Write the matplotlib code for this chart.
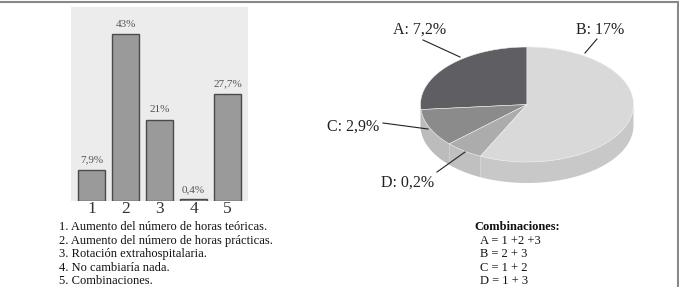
import numpy as np
import matplotlib.pyplot as plt
from matplotlib.patches import Polygon
from matplotlib.lines import Line2D

plt.rcParams['font.family'] = ['Liberation Serif', 'DejaVu Serif']

# bar chart data
bar_cats = ['1', '2', '3', '4', '5']
bar_vals = [7.9, 43, 21, 0.4, 27.7]
bar_labels = ['7,9%', '43%', '21%', '0,4%', '27,7%']
legend_lines = ['1. Aumento del número de horas teóricas.',
                '2. Aumento del número de horas prácticas.',
                '3. Rotación extrahospitalaria.',
                '4. No cambiaría nada.',
                '5. Combinaciones.']

# pie data (wedge sizes as drawn, labels as printed)
pie_names = ['A', 'C', 'D', 'B']
pie_share = [26.4, 10.6, 5.8, 57.2]
pie_labels = ['A: 7,2%', 'C: 2,9%', 'D: 0,2%', 'B: 17%']
combo_lines = ['A = 1 +2 +3', 'B = 2 + 3', 'C = 1 + 2', 'D = 1 + 3']

top_cols = {'A': '#5f5f63', 'B': '#d9d9d9', 'C': '#8b8b8b', 'D': '#acacac'}
side_cols = {'A': '#b8b8b8', 'B': '#c8c8c8', 'C': '#bcbcbc', 'D': '#c0c0c0'}

W, H = 679, 287
fig = plt.figure(figsize=(W / 100, H / 100), dpi=100)

# --- bar chart
axb = fig.add_axes([71 / W, 1 - 201 / H, 177 / W, 194 / H])
axb.set_facecolor('#ececec')
x = np.arange(1, 6)
axb.bar(x, bar_vals, width=0.79, color='#9a9a9a', edgecolor='#4a4a4a', linewidth=1.0)
for xi, v, lab in zip(x, bar_vals, bar_labels):
    axb.text(xi, v + 2.6, lab, ha='center', va='center', fontsize=8, color='#555555')
axb.set_xlim(0.4, 5.6)
axb.set_ylim(0, 50)
axb.set_yticks([])
axb.set_xticks(x)
axb.set_xticklabels(bar_cats, fontsize=12.5, color='#333333')
axb.tick_params(axis='x', length=0, pad=0)
for s in axb.spines.values():
    s.set_visible(False)

# --- overlay in pixel coordinates
ax = fig.add_axes([0, 0, 1, 1], facecolor='none')
ax.set_xlim(0, W)
ax.set_ylim(H, 0)
ax.axis('off')

for i, line in enumerate(legend_lines):
    ax.text(59, 227 + i * 13.6, line, fontsize=9, va='center', ha='left', color='#111111')

ax.text(474, 227, 'Combinaciones:', fontsize=9, fontweight='bold', va='center', ha='left',
        color='#111111')
for i, line in enumerate(combo_lines):
    ax.text(480, 240.5 + i * 13.6, line, fontsize=9, va='center', ha='left', color='#111111')

# 3d pie
cx, cy, rx, ry, depth = 527, 104.5, 106.5, 57.5, 21
edges = 90 + 360 * np.concatenate([[0], np.cumsum(pie_share)]) / np.sum(pie_share)

def pt(t, dy=0):
    r = np.radians(t)
    return cx + rx * np.cos(r), cy - ry * np.sin(r) + dy

# side walls (front half only: 180..360 deg)
for name, a0, a1 in zip(pie_names, edges[:-1], edges[1:]):
    for off in (0, 360):
        lo, hi = max(a0 - off, 180), min(a1 - off, 360)
        if hi <= lo:
            continue
        ts = np.linspace(lo, hi, 60)
        top = [pt(t) for t in ts]
        bot = [pt(t, depth) for t in ts[::-1]]
        ax.add_patch(Polygon(top + bot, closed=True, facecolor=side_cols[name],
                             edgecolor='none'))

# top faces
for name, a0, a1 in zip(pie_names, edges[:-1], edges[1:]):
    ts = np.linspace(a0, a1, 120)
    poly = [(cx, cy)] + [pt(t) for t in ts]
    ax.add_patch(Polygon(poly, closed=True, facecolor=top_cols[name],
                         edgecolor='#eeeeee', linewidth=0.4))

label_pos = {'A': (420, 30), 'B': (600, 30), 'C': (353, 127), 'D': (408, 183)}
leaders = {'A': [(423, 40), (460, 57)], 'B': [(597, 39), (585, 53)],
           'C': [(383, 123), (428, 129)], 'D': [(437, 172), (465, 152)]}
for name, lab in zip(pie_names, pie_labels):
    tx, ty = label_pos[name]
    ax.text(tx, ty, lab, fontsize=11.5, ha='center', va='center', color='#222222')
    (x0, y0), (x1, y1) = leaders[name]
    ax.plot([x0, x1], [y0, y1], color='#222222', lw=0.8)

# outer frame
fig.add_artist(Line2D([0, 677.5 / W], [1 - 2 / H, 1 - 2 / H], color='#888888', lw=1.5))
fig.add_artist(Line2D([677.5 / W, 677.5 / W], [0, 1 - 2 / H], color='#888888', lw=1.5))

fig.savefig('out.png', dpi=100)
